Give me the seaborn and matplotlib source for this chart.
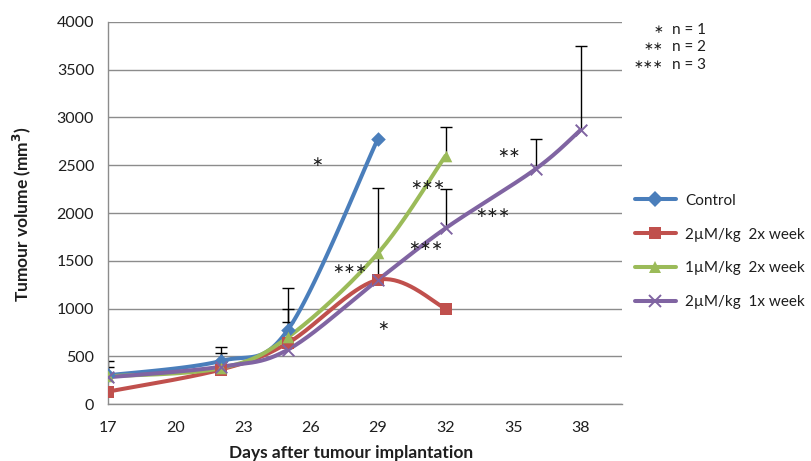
import numpy as np
import pandas as pd
import matplotlib
matplotlib.use("Agg")
import matplotlib.pyplot as plt
import seaborn as sns
from matplotlib.lines import Line2D

# ---- data -------------------------------------------------------------
days_control = [17, 22, 25, 29]
control = [300, 450, 780, 2780]
control_err = [150, 150, 440, 0]

days_2x2 = [17, 22, 25, 29, 32]
dose2_2x = [130, 360, 640, 1300, 1000]
dose2_2x_err = [0, 0, 0, 0, 0]

days_1x2 = [17, 22, 25, 29, 32]
dose1_2x = [290, 375, 700, 1580, 2600]
dose1_2x_err = [100, 155, 290, 0, 300]

days_2x1 = [17, 22, 25, 29, 32, 36, 38]
dose2_1x = [280, 390, 570, 1300, 1840, 2460, 2870]
dose2_1x_err = [0, 0, 290, 960, 410, 320, 880]

series_names = ["Control", "2\u00b5M/kg  2x week", "1\u00b5M/kg  2x week", "2\u00b5M/kg  1x week"]
colors = ["#4A7EBB", "#C0504D", "#9BBB59", "#8064A2"]
markers = ["D", "s", "^", "x"]

# significance marks: (day, volume, number of stars)
sig_day = [26.3, 27.75, 29.2, 31.2, 31.1, 34.1, 34.8]
sig_val = [2530, 1410, 815, 2290, 1650, 2000, 2630]
sig_n = [1, 3, 1, 3, 3, 3, 2]

x_ticks = [17, 20, 23, 26, 29, 32, 35, 38]
y_ticks = [0, 500, 1000, 1500, 2000, 2500, 3000, 3500, 4000]

STAR = "\u2217"

# ---- style ------------------------------------------------------------
sns.set_theme(style="white")
plt.rcParams["font.family"] = ["Lato", "DejaVu Sans"]
plt.rcParams["text.color"] = "#1E1E1E"


def smooth(xs, ys, n=40):
    """Cardinal (Catmull-Rom) bezier curve through the points, as in spreadsheet smoothed lines."""
    p = np.column_stack([xs, ys]).astype(float)
    out = [p[0]]
    t = np.linspace(0, 1, n)[1:, None]
    for i in range(len(p) - 1):
        p0 = p[i - 1] if i > 0 else p[i]
        p1, p2 = p[i], p[i + 1]
        p3 = p[i + 2] if i + 2 < len(p) else p[i + 1]
        c1 = p1 + (p2 - p0) / 6.0
        c2 = p2 - (p3 - p1) / 6.0
        seg = ((1 - t) ** 3) * p1 + 3 * ((1 - t) ** 2) * t * c1 + 3 * (1 - t) * t ** 2 * c2 + t ** 3 * p2
        out.extend(seg)
    out = np.array(out)
    return out[:, 0], out[:, 1]


fig = plt.figure(figsize=(8.11, 4.61), dpi=100)
ax = fig.add_axes([0.1332, 0.1236, 0.634, 0.8287])

all_series = [
    (days_control, control, control_err),
    (days_2x2, dose2_2x, dose2_2x_err),
    (days_1x2, dose1_2x, dose1_2x_err),
    (days_2x1, dose2_1x, dose2_1x_err),
]

# error bars (plus direction only) drawn beneath the lines
for xs, ys, errs in all_series:
    for x, y, e in zip(xs, ys, errs):
        if e > 0:
            _, caps, _ = ax.errorbar([x], [y], yerr=[[0], [e]], fmt="none", ecolor="black",
                                     elinewidth=1.0, capsize=4, capthick=1.0, zorder=2)
            caps[0].set_visible(False)

handles = []
for (xs, ys, _), name, col, mk in zip(all_series, series_names, colors, markers):
    sx, sy = smooth(xs, ys)
    ax.plot(sx, sy, color=col, lw=2.9, zorder=3, solid_capstyle="round")
    df = pd.DataFrame({"day": xs, "vol": ys})
    if mk == "x":
        sns.scatterplot(data=df, x="day", y="vol", ax=ax, marker="x", s=70, color=col,
                        linewidth=1.4, zorder=4, legend=False)
    else:
        sns.scatterplot(data=df, x="day", y="vol", ax=ax, marker=mk, s=70 if mk != "D" else 55,
                        color=col, edgecolor=col, linewidth=0, zorder=4, legend=False)
    handles.append(Line2D([0], [0], color=col, lw=2.9, marker=mk, markersize=8,
                          markeredgewidth=1.4 if mk == "x" else 0, markerfacecolor=col,
                          markeredgecolor=col))

for x, y, n in zip(sig_day, sig_val, sig_n):
    ax.text(x, y, STAR * n, ha="center", va="center", fontsize=10, color="#1E1E1E",
            family="DejaVu Sans", zorder=5)

# axes
ax.set_xlim(17, 39.85)
ax.set_ylim(0, 4000)
ax.set_xticks(x_ticks)
ax.set_yticks(y_ticks)
ax.yaxis.grid(True, color="#8C8C8C", lw=1.0)
ax.xaxis.grid(False)
ax.set_axisbelow(True)
for side in ["top", "right"]:
    ax.spines[side].set_visible(False)
for side in ["left", "bottom"]:
    ax.spines[side].set_color("#8C8C8C")
    ax.spines[side].set_linewidth(1.0)
ax.tick_params(axis="both", length=0, labelsize=11.5, colors="#1E1E1E")
ax.tick_params(axis="x", pad=12)
ax.tick_params(axis="y", pad=10)
ax.set_xlabel("")
ax.set_ylabel("")

fig.text(0.433, 0.018, "Days after tumour implantation", ha="center", va="center",
         fontsize=12.5, fontweight="bold")
fig.text(0.027, 0.535, "Tumour volume (mm$^\\mathbf{3}$)", ha="center", va="center",
         rotation=90, fontsize=12.5, fontweight="bold")

# n key
for yy, n, lab in [(0.936, 1, "n = 1"), (0.899, 2, "n = 2"), (0.860, 3, "n = 3")]:
    fig.text(0.818, yy, STAR * n, ha="right", va="center", fontsize=8.5, family="DejaVu Sans")
    fig.text(0.829, yy, lab, ha="left", va="center", fontsize=11)

fig.legend(handles, series_names, loc="upper left", bbox_to_anchor=(0.775, 0.593),
           frameon=False, fontsize=11, handlelength=2.7, handletextpad=0.6,
           labelspacing=1.3, borderaxespad=0)

fig.savefig("out.png", dpi=100)
